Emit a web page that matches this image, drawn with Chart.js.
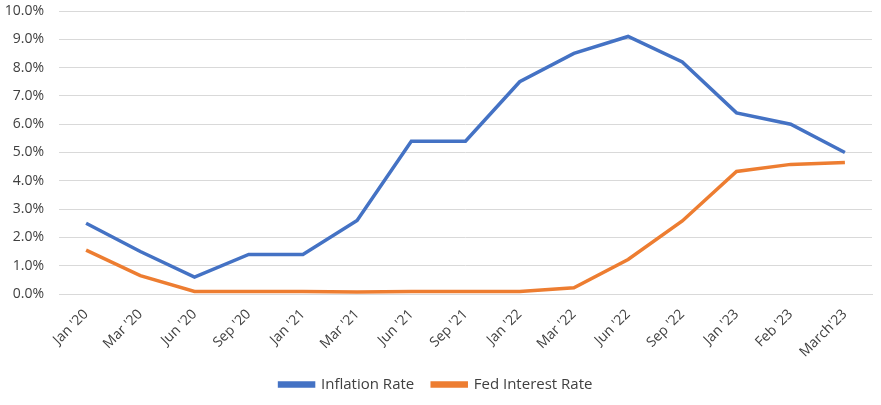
<!DOCTYPE html>
<html lang="en">
  <head>
    <meta charset="UTF-8" />
    <title>Inflation vs Fed Interest Rate</title>
    <script src="https://cdn.jsdelivr.net/npm/chart.js"></script>
    <style>
      html, body { margin: 0; padding: 0; background: #fff; }
      #wrap { width: 881px; height: 405px; }
    </style>
  </head>
  <body>
    <div id="wrap"><canvas id="chart" width="881" height="405"></canvas></div>
    <script>
      const months = ["Jan '20", "Mar '20", "Jun '20", "Sep '20", "Jan '21", "Mar '21", "Jun '21", "Sep '21",
        "Jan '22", "Mar '22", "Jun '22", "Sep '22", "Jan '23", "Feb '23", "March'23"];
      const inflation = [2.5, 1.5, 0.6, 1.4, 1.4, 2.6, 5.4, 5.4, 7.5, 8.5, 9.1, 8.2, 6.4, 6.0, 5.0];
      const fedRate = [1.55, 0.65, 0.09, 0.09, 0.09, 0.07, 0.09, 0.09, 0.09, 0.22, 1.22, 2.58, 4.33, 4.58, 4.65];

      const textColor = "#404040";
      const font = { family: "'Open Sans', 'Liberation Sans', sans-serif", size: 14 };

      new Chart(document.getElementById("chart"), {
        type: "line",
        data: {
          labels: months,
          datasets: [
            { label: "Inflation Rate", data: inflation, borderColor: "#4472C4", backgroundColor: "#4472C4" },
            { label: "Fed Interest Rate", data: fedRate, borderColor: "#ED7D31", backgroundColor: "#ED7D31" },
          ],
        },
        options: {
          responsive: false,
          animation: false,
          layout: { padding: { left: 0, right: 9, top: 0, bottom: 3 } },
          elements: {
            line: { borderWidth: 3.5, tension: 0 },
            point: { radius: 0 },
          },
          scales: {
            x: {
              offset: true,
              afterFit: (scale) => { scale.height = 65; },
              grid: { display: false },
              border: { color: "#D9D9D9" },
              ticks: { color: textColor, font, minRotation: 45, maxRotation: 45, autoSkip: false, padding: 4 },
            },
            y: {
              min: 0,
              max: 10,
              afterFit: (scale) => { scale.width = 59; scale.paddingTop = 11; },
              grid: { color: "#D9D9D9", drawTicks: false },
              border: { display: false },
              ticks: {
                stepSize: 1,
                color: textColor,
                font,
                padding: 15,
                callback: (v) => v.toFixed(1) + "%",
              },
            },
          },
          plugins: {
            legend: {
              position: "bottom",
              labels: { color: textColor, font: { ...font, size: 15 }, boxWidth: 34, boxHeight: 3, padding: 18 },
            },
            tooltip: { enabled: false },
          },
        },
      });
    </script>
  </body>
</html>
